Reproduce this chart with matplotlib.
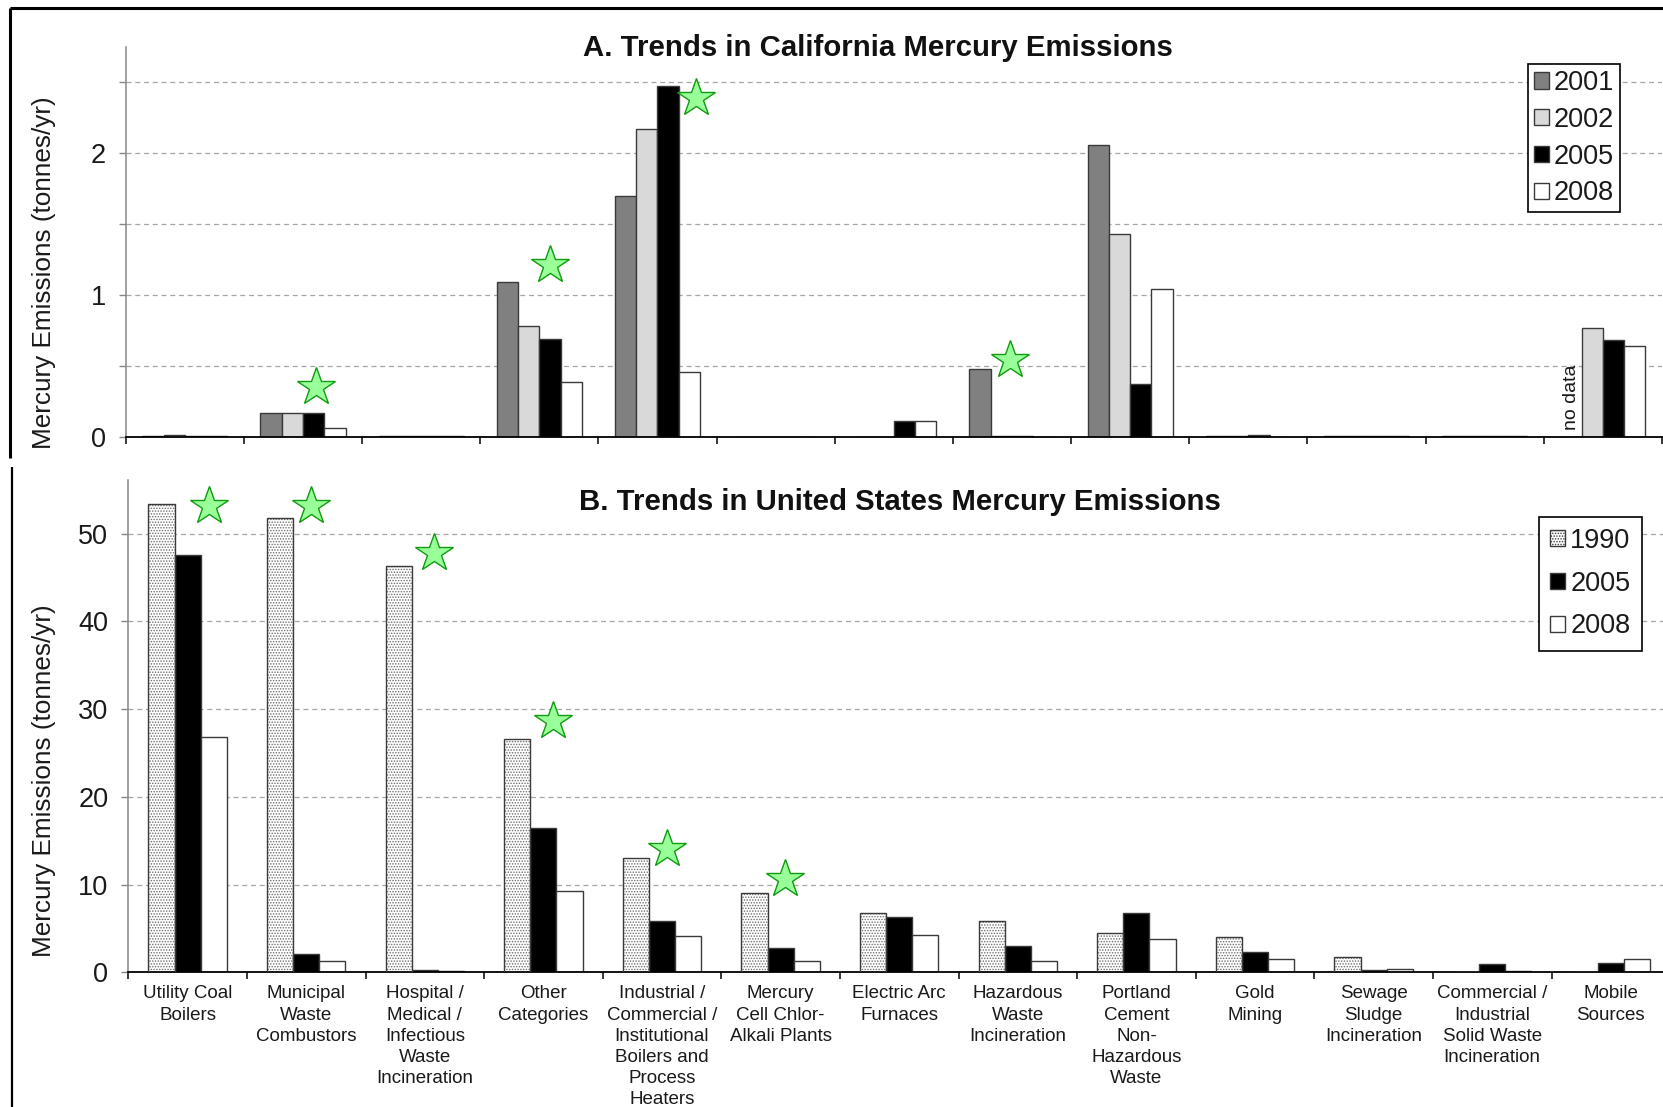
import numpy as np
import matplotlib
matplotlib.use("Agg")
import matplotlib.pyplot as plt
from matplotlib import font_manager
from matplotlib.lines import Line2D

# ---------------------------------------------------------------- data
categories = [
    "Utility Coal\nBoilers",
    "Municipal\nWaste\nCombustors",
    "Hospital /\nMedical /\nInfectious\nWaste\nIncineration",
    "Other\nCategories",
    "Industrial /\nCommercial /\nInstitutional\nBoilers and\nProcess\nHeaters",
    "Mercury\nCell Chlor-\nAlkali Plants",
    "Electric Arc\nFurnaces",
    "Hazardous\nWaste\nIncineration",
    "Portland\nCement\nNon-\nHazardous\nWaste",
    "Gold\nMining",
    "Sewage\nSludge\nIncineration",
    "Commercial /\nIndustrial\nSolid Waste\nIncineration",
    "Mobile\nSources",
]

# California emissions (tonnes/yr); NaN = no data
ca_years = ["2001", "2002", "2005", "2008"]
ca_2001 = [0.005, 0.17, 0.005, 1.09, 1.70, 0.0, 0.0, 0.48, 2.06, 0.005, 0.005, 0.005, np.nan]
ca_2002 = [0.015, 0.17, 0.005, 0.78, 2.17, 0.0, 0.0, 0.005, 1.43, 0.005, 0.005, 0.005, 0.77]
ca_2005 = [0.005, 0.17, 0.005, 0.69, 2.47, 0.0, 0.11, 0.005, 0.37, 0.015, 0.005, 0.005, 0.68]
ca_2008 = [0.005, 0.06, 0.005, 0.39, 0.46, 0.0, 0.11, 0.0, 1.04, 0.0, 0.005, 0.005, 0.64]

# United States emissions (tonnes/yr)
us_years = ["1990", "2005", "2008"]
us_1990 = [53.4, 51.8, 46.3, 26.6, 13.0, 9.0, 6.8, 5.9, 4.5, 4.0, 1.8, 0.0, 0.0]
us_2005 = [47.5, 2.1, 0.3, 16.4, 5.8, 2.8, 6.3, 3.0, 6.8, 2.3, 0.3, 1.0, 1.1]
us_2008 = [26.8, 1.25, 0.15, 9.3, 4.1, 1.25, 4.2, 1.25, 3.8, 1.5, 0.4, 0.15, 1.5]

# star markers: category index, shift within category, height
ca_star_cat = [1, 3, 4, 7]
ca_star_dx = [0.11, 0.09, 0.33, -0.02]
ca_star_y = [0.35, 1.21, 2.39, 0.54]

us_star_cat = [0, 1, 2, 3, 4, 5]
us_star_dx = [0.18, 0.04, 0.08, 0.08, 0.04, 0.04]
us_star_y = [53.1, 53.1, 47.8, 28.6, 14.1, 10.6]

# ---------------------------------------------------------------- style
names = {f.name for f in font_manager.fontManager.ttflist}
plt.rcParams["font.family"] = ["Liberation Sans", "DejaVu Sans"]
plt.rcParams["hatch.linewidth"] = 0.7
if "Liberation Sans Narrow" in names:
    cat_font = ["Liberation Sans Narrow", "Liberation Sans"]
    cat_size = 15.5
    cat_spacing = 1.18
else:
    cat_font = ["Liberation Sans"]
    cat_size = 13.5
    cat_spacing = 1.31

W, H = 1663, 1107
fig = plt.figure(figsize=(W / 100, H / 100), dpi=100)
fig.patch.set_facecolor("white")

edge = "#3a3a3a"
text_col = "#1a1a1a"
grid_kw = dict(color="#a6a6a6", lw=0.9, ls=(0, (4, 3)))
tick_size = 19.5
n = len(categories)
x = np.arange(n)


def style_axis(ax):
    ax.set_xlim(-0.5, n - 0.5)
    for s in ("top", "right"):
        ax.spines[s].set_visible(False)
    ax.spines["left"].set_color("#868686")
    ax.spines["left"].set_linewidth(1.1)
    ax.spines["bottom"].set_color("black")
    ax.spines["bottom"].set_linewidth(1.3)
    ax.set_xticks(x)
    ax.set_xticks(np.arange(-0.5, n, 1.0), minor=True)
    ax.tick_params(axis="x", which="major", length=0)
    ax.tick_params(axis="x", which="minor", length=5, width=1.1,
                   direction="out", color="black")
    ax.tick_params(axis="y", which="both", length=5, width=1.0,
                   direction="out", color="#868686", labelsize=tick_size,
                   pad=9.3, labelcolor=text_col)
    ax.set_axisbelow(True)
    ax.yaxis.grid(True, which="both", **grid_kw)


def style_legend(leg):
    leg.get_frame().set_edgecolor("black")
    leg.get_frame().set_linewidth(1.2)
    for t in leg.get_texts():
        t.set_color(text_col)


# ---------------------------------------------------------------- panel A
axA = fig.add_axes([125.7 / W, 1 - 437 / H, (1662 - 125.7) / W, (437 - 46.7) / H])
style_axis(axA)
axA.set_ylim(0, 2.75)
axA.set_yticks([0, 1, 2])
axA.set_yticks([0.5, 1.5, 2.5], minor=True)
axA.set_xticklabels([])

ca_series = [ca_2001, ca_2002, ca_2005, ca_2008]
ca_colors = ["#808080", "#d9d9d9", "#000000", "#ffffff"]
wA = 0.18
for i, (vals, col, yr) in enumerate(zip(ca_series, ca_colors, ca_years)):
    axA.bar(x + (i - 1.5) * wA, np.nan_to_num(vals), width=wA, color=col,
            edgecolor=edge, linewidth=1.0, label=yr, zorder=2)

# "no data" note in the empty 2001 slot for mobile sources
for j, v in enumerate(ca_2001):
    if np.isnan(v):
        axA.text(j - 1.5 * wA, 0.05, "no data", rotation=90, ha="center",
                 va="bottom", fontsize=14, color=text_col)

axA.plot(np.array(ca_star_cat) + np.array(ca_star_dx), ca_star_y, ls="none",
         marker="*", ms=29, mfc="#99ff99", mec="#109a10", mew=1.0,
         zorder=5, clip_on=False)

axA.set_ylabel("Mercury Emissions (tonnes/yr)", fontsize=18.8, color=text_col)
axA.yaxis.set_label_coords(-0.0454, 0.42)
fig.text(877.6 / W, 1 - 47.7 / H, "A. Trends in California Mercury Emissions",
         ha="center", va="center", fontsize=21.2, fontweight="bold", color="#111111")

legA = axA.legend(loc="upper left", bbox_to_anchor=(1528 / W, 1 - 64 / H),
                  bbox_transform=fig.transFigure, borderaxespad=0,
                  fancybox=False, fontsize=tick_size, handlelength=0.55,
                  handleheight=0.55, handletextpad=0.18, labelspacing=0.40,
                  borderpad=0.22, framealpha=1)
style_legend(legA)

# ---------------------------------------------------------------- panel B
axB = fig.add_axes([128.3 / W, 1 - 972.3 / H, 13 * 118.6 / W, (972.3 - 480) / H])
style_axis(axB)
axB.set_ylim(0, 56.1)
axB.set_yticks(np.arange(0, 51, 10))
axB.set_xticklabels(categories, fontsize=cat_size, family=cat_font,
                    color=text_col, linespacing=cat_spacing, va="top")
axB.tick_params(axis="x", which="major", pad=9.5)

wB = 0.22
# 1990: dotted fill with a dark outline drawn on top
axB.bar(x - wB, us_1990, width=wB, color="white", edgecolor="#6e6e6e",
        hatch="......", linewidth=0, label=us_years[0], zorder=2)
axB.bar(x - wB, us_1990, width=wB, fill=False, edgecolor=edge,
        linewidth=1.0, zorder=3)
axB.bar(x, us_2005, width=wB, color="black", edgecolor=edge,
        linewidth=1.0, label=us_years[1], zorder=2)
axB.bar(x + wB, us_2008, width=wB, color="white", edgecolor=edge,
        linewidth=1.0, label=us_years[2], zorder=2)

axB.plot(np.array(us_star_cat) + np.array(us_star_dx), us_star_y, ls="none",
         marker="*", ms=29, mfc="#99ff99", mec="#109a10", mew=1.0,
         zorder=5, clip_on=False)

axB.set_ylabel("Mercury Emissions (tonnes/yr)", fontsize=18.8, color=text_col)
axB.yaxis.set_label_coords(-0.0469, 0.39)
fig.text(900 / W, 1 - 501.7 / H, "B. Trends in United States Mercury Emissions",
         ha="center", va="center", fontsize=21.2, fontweight="bold", color="#111111")

handlesB, labelsB = axB.get_legend_handles_labels()
legB = axB.legend(handlesB, labelsB, loc="upper left",
                  bbox_to_anchor=(1539 / W, 1 - 516.5 / H),
                  bbox_transform=fig.transFigure, borderaxespad=0,
                  fancybox=False, fontsize=tick_size, handlelength=0.55,
                  handleheight=0.55, handletextpad=0.18, labelspacing=0.62,
                  borderpad=0.42, framealpha=1)
style_legend(legB)
for h in legB.legend_handles:
    h.set_edgecolor(edge)
    h.set_linewidth(1.0)

# ---------------------------------------------------------------- frames
def fig_line(xs, ys, lw):
    fig.add_artist(Line2D([v / W for v in xs], [1 - v / H for v in ys],
                          transform=fig.transFigure, color="black", lw=lw,
                          solid_capstyle="butt"))

fig_line([9.5, W + 5], [8, 8], 2.2)
fig_line([9.5, 9.5], [8, 458], 2.2)
fig_line([12, 12], [467, H + 5], 1.6)

fig.savefig("out.png", dpi=100, facecolor="white")
